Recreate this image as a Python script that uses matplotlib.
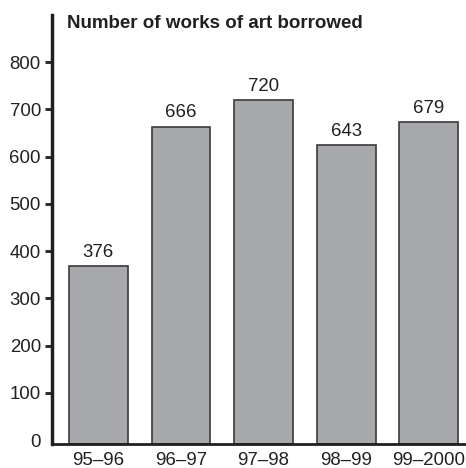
import numpy as np
import matplotlib
matplotlib.use("Agg")
import matplotlib.pyplot as plt

# data
seasons = ["95\u201396", "96\u201397", "97\u201398", "98\u201399", "99\u20132000"]
bar_heights = [368, 664, 720, 625, 674]      # drawn heights of the bars
bar_labels = ["376", "666", "720", "643", "679"]  # printed values above the bars
y_ticks = [0, 100, 200, 300, 400, 500, 600, 700, 800]

plt.rcParams['font.family'] = ['Liberation Sans', 'DejaVu Sans']
ink = "#231f20"
fs = 13.4

fig = plt.figure(figsize=(4.66, 4.68), dpi=100)
ax = fig.add_axes([52/466, 24/468, 1 - 52/466, (444 - 15)/468])

y_lo, y_hi = -8, 900
x = np.arange(len(seasons))
bars = ax.bar(x, np.array(bar_heights) - y_lo, bottom=y_lo, width=0.71,
              color="#a8a9ac", edgecolor="#3a3a3a", linewidth=1.2)

for rect, lab in zip(bars, bar_labels):
    ax.annotate(lab, (rect.get_x() + rect.get_width()/2, rect.get_y() + rect.get_height()),
                xytext=(0, 6.5), textcoords="offset points",
                ha="center", va="baseline", fontsize=fs, color=ink)

ax.set_xlim(-0.56, 4.45)
ax.set_ylim(y_lo, y_hi)
ax.set_yticks(y_ticks)
ax.set_yticklabels([str(t) for t in y_ticks], fontsize=fs, color=ink)
ax.set_xticks(x)
ax.set_xticklabels(seasons, fontsize=fs, color=ink)

ax.tick_params(axis="y", direction="out", length=5, width=2, color=ink, pad=3)
ax.tick_params(axis="x", length=0, pad=6)
ax.yaxis.get_major_ticks()[0].tick1line.set_visible(False)

for s in ["top", "right"]:
    ax.spines[s].set_visible(False)
ax.spines["left"].set_linewidth(2.5)
ax.spines["left"].set_color(ink)
ax.spines["bottom"].set_linewidth(2)
ax.spines["bottom"].set_color(ink)

fig.text(67/466, 1 - 24/468, "Number of works of art borrowed",
         fontsize=13.5, fontweight="bold", color=ink, va="center", ha="left")

fig.savefig("out.png", dpi=100)
